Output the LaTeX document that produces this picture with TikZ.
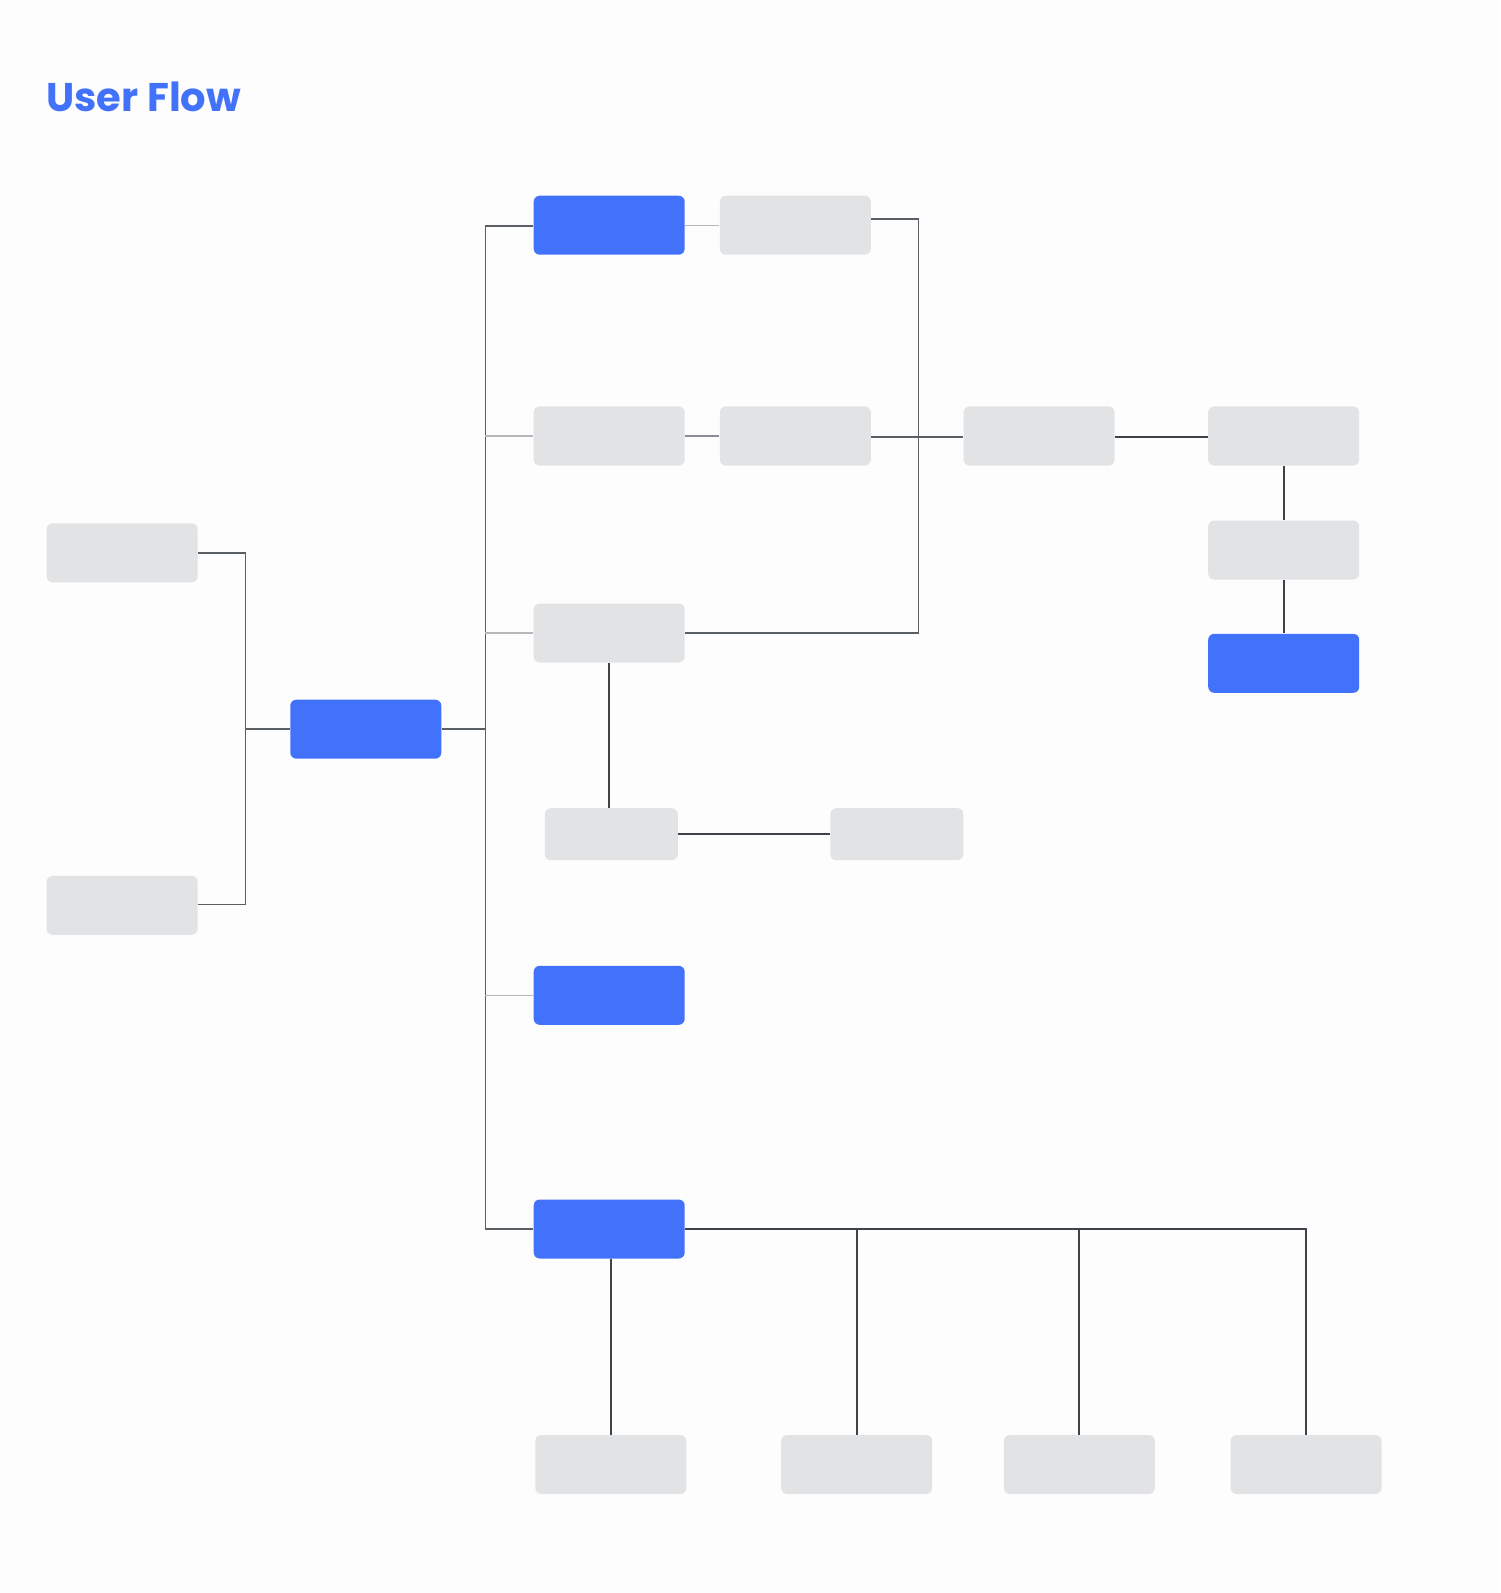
\documentclass[tikz,border=0pt]{standalone}
\usepackage{fontspec}
\newfontfamily\titlefont{Poppins}
\definecolor{bg}{HTML}{FDFDFD}
\definecolor{bluebox}{HTML}{4272FA}
\definecolor{graybox}{HTML}{E2E3E5}
\definecolor{darkline}{HTML}{5A5F66}
\definecolor{inkline}{HTML}{3E434A}
\definecolor{lightline}{HTML}{B5B7BA}
\definecolor{midline}{HTML}{8A8E94}
\tikzset{
  px/.style={x={(0.5pt,0)},y={(0,-0.5pt)}},
  boxbase/.style={rectangle,rounded corners=3pt,inner sep=0pt,minimum width=75.5pt,minimum height=29.5pt,draw=none},
  bluenode/.style={boxbase,fill=bluebox},
  graynode/.style={boxbase,fill=graybox},
  smallgray/.style={boxbase,fill=graybox,minimum width=66.5pt,minimum height=26pt},
  link/.style={draw=darkline,line width=0.75pt},
  linklight/.style={draw=lightline,line width=0.6pt},
  linkmid/.style={draw=midline,line width=0.65pt},
  linkink/.style={draw=inkline,line width=1pt},
  linkfan/.style={draw=inkline,line width=0.85pt},
}
\begin{document}
\begin{tikzpicture}[px]
\fill[bg] (0,0) rectangle (1500,1593);
\useasboundingbox (0,0) rectangle (1500,1593);
\node[anchor=base west,inner sep=0pt,text=bluebox,font=\titlefont\bfseries\fontsize{20pt}{23pt}\selectfont] (title) at (46,112) {User Flow};

% nodes
\node[graynode] (L1) at (122.2,552.8) {};
\node[graynode] (L2) at (122.2,905.3) {};
\node[bluenode] (C) at (365.8,729.2) {};
\node[bluenode] (R1a) at (609.2,225.2) {};
\node[graynode] (R1b) at (795.3,225.2) {};
\node[graynode] (R2a) at (609.2,436) {};
\node[graynode] (R2b) at (795.3,436) {};
\node[graynode] (R2c) at (1039,436) {};
\node[graynode] (R2d) at (1283.7,436) {};
\node[graynode] (R2e) at (1283.7,550) {};
\node[bluenode] (R2f) at (1283.7,663.3) {};
\node[graynode] (R3) at (609.2,633) {};
\node[smallgray] (R4a) at (611.3,834.2) {};
\node[smallgray] (R4b) at (896.8,834.2) {};
\node[bluenode] (R5) at (609.2,995.3) {};
\node[bluenode] (R6) at (609.2,1229) {};
\node[graynode] (B1) at (610.8,1464.5) {};
\node[graynode] (B2) at (856.7,1464.5) {};
\node[graynode] (B3) at (1079.3,1464.5) {};
\node[graynode] (B4) at (1306,1464.5) {};

\coordinate (lj) at (245.7,729.2);
\coordinate (mj) at (485.3,729.2);
\coordinate (rj) at (918.5,219);

% left bracket
\draw[link] (L1.east |- 0,553) -| (lj) |- (L2.east |- 0,904.3);
\draw[link] (lj) -- (C.west);
% main trunk
\draw[link] (C.east) -- (mj);
\draw[link] (R1a.west |- 0,226) -| (mj) |- (R6.west);
\draw[linklight] (mj |- R2a) -- (R2a.west);
\draw[linklight] (mj |- R3) -- (R3.west);
\draw[linklight] (mj |- R5) -- (R5.west);
% top rows
\draw[linklight] (R1a.east) -- (R1b.west);
\draw[linkmid] (R2a.east) -- (R2b.west);
\draw[link] (R1b.east |- rj) -- (rj) |- (R3.east);
\draw[link] (R2b.east |- 0,437) -- (R2c.west |- 0,437);
\draw[linkink] (R2c.east |- 0,437) -- (R2d.west |- 0,437);
\draw[linkink] (R2d.south) -- (R2e.north);
\draw[linkink] (R2e.south) -- (R2f.north);
% middle branch
\draw[linkink] (R3.south) -- (R3.south |- R4a.north);
\draw[linkink] (R4a.east) -- (R4b.west);
% bottom fan
\draw[linkfan] (R6.east) -- (R6.east -| B4) -- (B4.north);
\draw[linkfan] (R6.south -| B1) -- (B1.north);
\draw[linkfan] (R6.east -| B2) -- (B2.north);
\draw[linkfan] (R6.east -| B3) -- (B3.north);
\end{tikzpicture}
\end{document}
